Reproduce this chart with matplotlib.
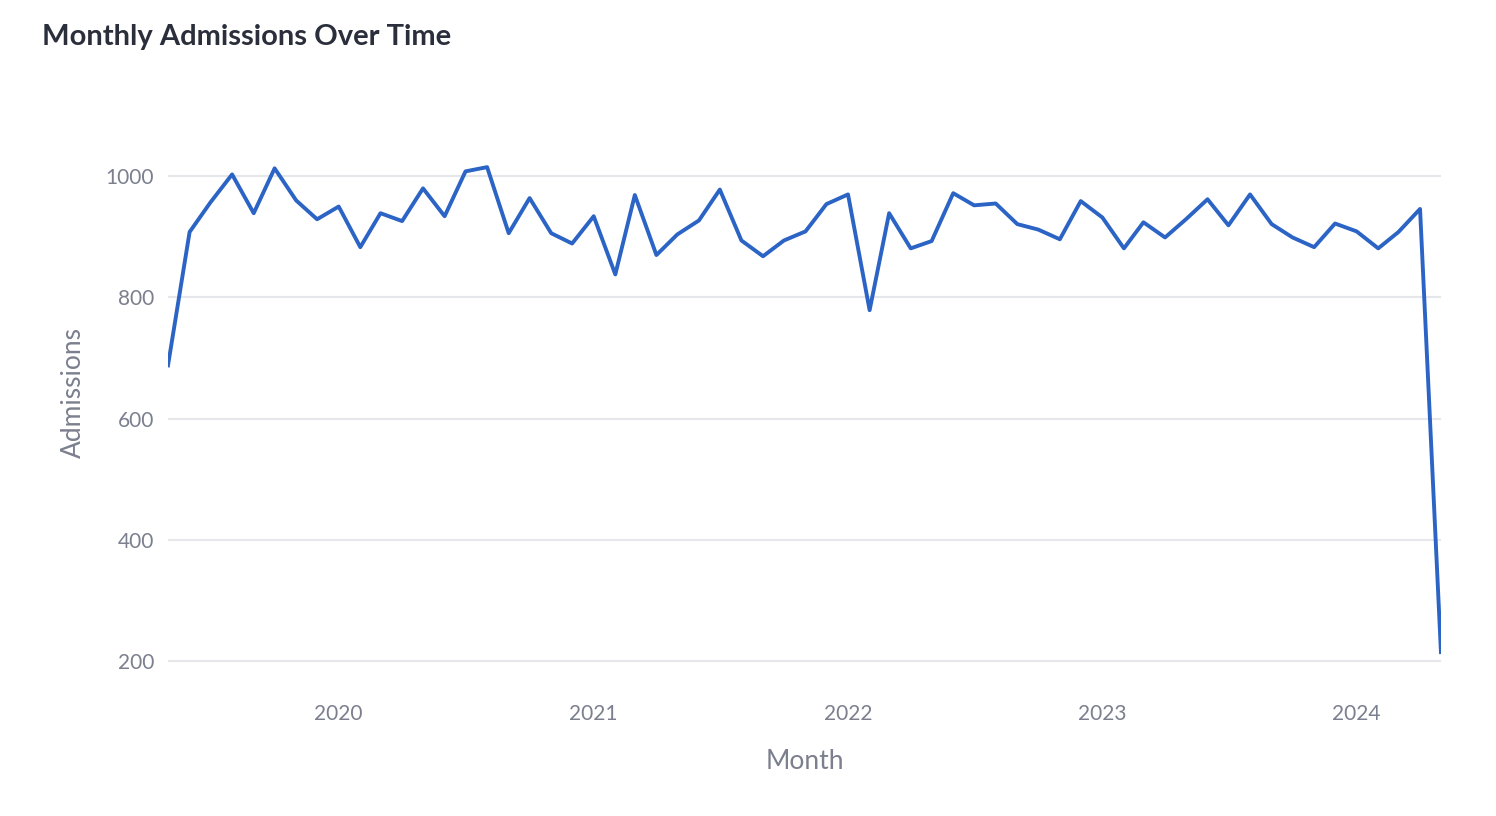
import pandas as pd
import matplotlib.pyplot as plt
import matplotlib.dates as mdates

# Monthly admissions, May 2019 - May 2024
months = pd.date_range("2019-05-01", "2024-05-01", freq="MS")
admissions = [
    688, 908, 957, 1003, 939, 1013, 960, 929, 950, 883, 939, 926,
    980, 934, 1008, 1015, 906, 964, 906, 889, 934, 838, 969, 870,
    904, 927, 978, 894, 868, 894, 909, 954, 970, 779, 939, 881,
    893, 972, 952, 955, 921, 912, 896, 959, 932, 881, 924, 899,
    929, 962, 919, 970, 921, 899, 883, 922, 909, 881, 908, 946,
    215,
]
year_ticks = ["2020", "2021", "2022", "2023", "2024"]

plt.rcParams["font.family"] = "Lato"
grey = "#7b7f8e"

fig = plt.figure(figsize=(14.96, 8.16), dpi=100)
ax = fig.add_axes([0.1123, 0.154, 0.8509, 0.7296])

ax.plot(months, admissions, color="#2b64c5", linewidth=2.8)

ax.set_xlim(months[0], months[-1])
ax.set_ylim(152, 1134)
ax.set_yticks([200, 400, 600, 800, 1000])
ax.set_xticks([pd.Timestamp(y + "-01-01") for y in year_ticks])
ax.xaxis.set_major_formatter(mdates.DateFormatter("%Y"))

ax.grid(axis="y", color="#e6e7eb", linewidth=1.5)
ax.set_axisbelow(True)
for s in ax.spines.values():
    s.set_visible(False)
ax.tick_params(length=0, labelsize=15, labelcolor=grey, pad=10)

ax.set_xlabel("Month", fontsize=19, color=grey, labelpad=18)
ax.set_ylabel("Admissions", fontsize=19, color=grey, labelpad=14)

fig.text(0.028, 0.945, "Monthly Admissions Over Time", fontsize=21,
         fontweight="bold", color="#2b2f3b")

fig.savefig("out.png")
